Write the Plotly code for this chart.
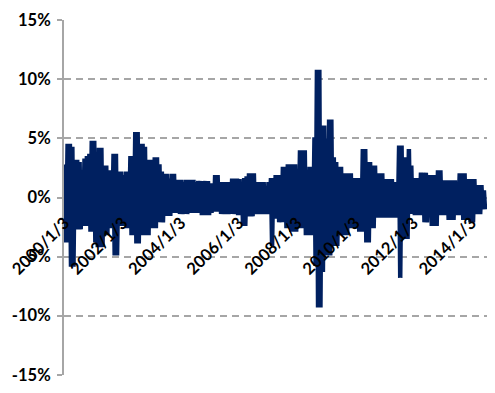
import pandas as pd
import plotly.graph_objects as go

# Monthly upper envelope of daily returns (%), Jan 2000 .. Jun 2014
high_pct = [
    2.8, 4.55, 4.55, 4.3, 3.2, 3.2, 3.0, 1.4, 3.3, 3.5, 3.7, 4.8,      # 2000
    4.8, 2.2, 4.2, 4.2, 2.7, 2.7, 2.3, 2.3, 3.7, 3.7, 2.2, 2.2,        # 2001
    1.9, 2.2, 2.2, 3.5, 3.5, 5.55, 5.55, 4.55, 4.55, 4.3, 3.2, 3.2,    # 2002
    3.2, 3.4, 3.4, 2.8, 2.2, 2.0, 2.0, 1.6, 2.0, 2.0, 1.5, 1.5,        # 2003
    1.5, 1.3, 1.5, 1.5, 1.5, 1.5, 1.3, 1.4, 1.4, 1.4, 1.4, 1.4,        # 2004
    1.2, 1.2, 1.9, 1.9, 1.3, 1.3, 1.3, 1.3, 1.3, 1.6, 1.6, 1.6,        # 2005
    1.55, 1.2, 1.65, 1.8, 2.05, 2.05, 2.05, 1.3, 1.3, 1.3, 1.3, 0.9,   # 2006
    1.3, 1.65, 1.65, 1.9, 1.9, 1.9, 2.6, 2.6, 2.8, 2.8, 2.8, 2.8,      # 2007
    2.05, 4.0, 4.0, 4.0, 1.9, 2.6, 2.6, 5.1, 10.8, 10.8, 6.1, 6.1,     # 2008
    5.0, 6.6, 6.6, 3.4, 3.0, 2.6, 2.6, 2.05, 2.05, 2.05, 2.05, 1.65,   # 2009
    1.65, 1.65, 1.65, 4.1, 4.1, 3.0, 3.0, 2.7, 2.7, 2.05, 2.05, 2.05,  # 2010
    1.55, 1.55, 1.55, 1.55, 1.3, 1.3, 4.4, 4.4, 3.4, 3.4, 4.1, 2.7,    # 2011
    1.65, 1.65, 1.65, 2.1, 2.1, 2.1, 1.9, 1.9, 1.9, 1.9, 2.3, 2.3,     # 2012
    1.45, 1.45, 1.45, 1.45, 1.45, 1.45, 1.3, 2.05, 2.05, 2.05, 1.55, 1.55,  # 2013
    1.55, 1.55, 1.05, 1.05, 1.05, 0.6,                                 # 2014
]
# Monthly lower envelope of daily returns (%)
low_pct = [
    -3.8, -3.8, -5.85, -5.85, -2.7, -2.7, -2.7, -2.4, -2.4, -2.4, -2.9, -2.9,
    -3.8, -4.2, -4.2, -4.2, -3.2, -3.2, -2.6, -2.6, -4.9, -4.9, -2.4, -2.4,
    -2.4, -2.6, -2.6, -3.2, -3.2, -3.9, -3.9, -3.2, -3.2, -3.2, -3.2, -2.6,
    -2.6, -2.6, -2.1, -2.1, -2.1, -1.55, -1.55, -1.55, -1.3, -1.3, -1.3, -1.4,
    -1.4, -1.4, -1.4, -1.3, -1.3, -1.3, -1.3, -1.3, -1.5, -1.5, -1.5, -1.5,
    -1.3, -1.2, -1.2, -1.2, -1.4, -1.4, -1.4, -1.4, -1.4, -1.4, -1.4, -1.5,
    -1.5, -2.4, -2.4, -1.6, -1.6, -1.6, -1.4, -1.4, -1.4, -1.4, -1.4, -1.4,
    -1.3, -4.1, -1.8, -1.8, -2.1, -2.1, -2.1, -2.6, -2.6, -2.9, -2.9, -2.9,
    -2.6, -2.6, -2.6, -3.2, -3.2, -3.2, -3.2, -5.8, -9.3, -9.3, -6.3, -4.9,
    -4.9, -4.9, -4.1, -4.1, -4.1, -3.2, -3.2, -3.2, -3.2, -2.6, -2.6, -2.6,
    -2.6, -2.9, -2.9, -2.9, -3.8, -3.8, -2.6, -2.6, -1.7, -1.7, -1.7, -1.7,
    -1.7, -1.7, -1.7, -1.7, -1.7, -1.7, -6.8, -3.5, -3.5, -3.5, -1.4, -1.4,
    -1.5, -1.5, -1.5, -1.5, -2.1, -2.1, -1.4, -2.4, -2.4, -2.4, -1.5, -1.5,
    -1.5, -1.5, -1.9, -1.9, -1.9, -1.5, -1.5, -1.5, -1.9, -1.9, -1.9, -2.1,
    -2.1, -1.4, -1.4, -1.4, -1.0, -1.0,
]

months = pd.date_range("2000-01-01", periods=len(high_pct), freq="MS")

x_tick_dates = ["2000-01-03", "2002-01-03", "2004-01-03", "2006-01-03",
                "2008-01-03", "2010-01-03", "2012-01-03", "2014-01-03"]
x_tick_labels = ["2000/1/3", "2002/1/3", "2004/1/3", "2006/1/3",
                 "2008/1/3", "2010/1/3", "2012/1/3", "2014/1/3"]
y_tick_vals = [-0.15, -0.10, -0.05, 0.0, 0.05, 0.10, 0.15]
y_tick_labels = ["-15%", "-10%", "-5%", "0%", "5%", "10%", "15%"]

# interleave: upper value early in month, lower value later in month
xs, ys = [], []
for m, h, l in zip(months, high_pct, low_pct):
    xs.append(m + pd.Timedelta(days=7))
    ys.append(h / 100)
    xs.append(m + pd.Timedelta(days=21))
    ys.append(l / 100)

navy = "#002060"
grey = "#a6a6a6"
font = dict(family="Lato", size=16.5, color="#000000", weight="bold")

fig = go.Figure()
fig.add_trace(go.Scatter(x=xs, y=ys, mode="lines",
                         line=dict(color=navy, width=4.5),
                         hoverinfo="skip", showlegend=False))

fig.update_layout(
    width=495, height=393,
    margin=dict(l=63, r=8, t=20, b=14),
    paper_bgcolor="white", plot_bgcolor="white",
    showlegend=False,
    xaxis=dict(
        type="date",
        range=["1999-12-25", "2014-07-17"],
        tickvals=x_tick_dates, ticktext=x_tick_labels,
        tickangle=-45, tickfont=font,
        showgrid=False, zeroline=False, showline=False,
        ticks="", anchor="free", position=0.467,
    ),
    yaxis=dict(
        range=[-0.1502, 0.1502],
        tickvals=y_tick_vals, ticktext=y_tick_labels,
        tickfont=font,
        showgrid=True, gridcolor=grey, gridwidth=2, griddash="7px,5px",
        zeroline=False,
        showline=True, linecolor=grey, linewidth=2,
        ticks="outside", ticklen=5, tickcolor=grey, tickwidth=2,
        ticklabelstandoff=3,
    ),
)

fig.write_html("out.html")
